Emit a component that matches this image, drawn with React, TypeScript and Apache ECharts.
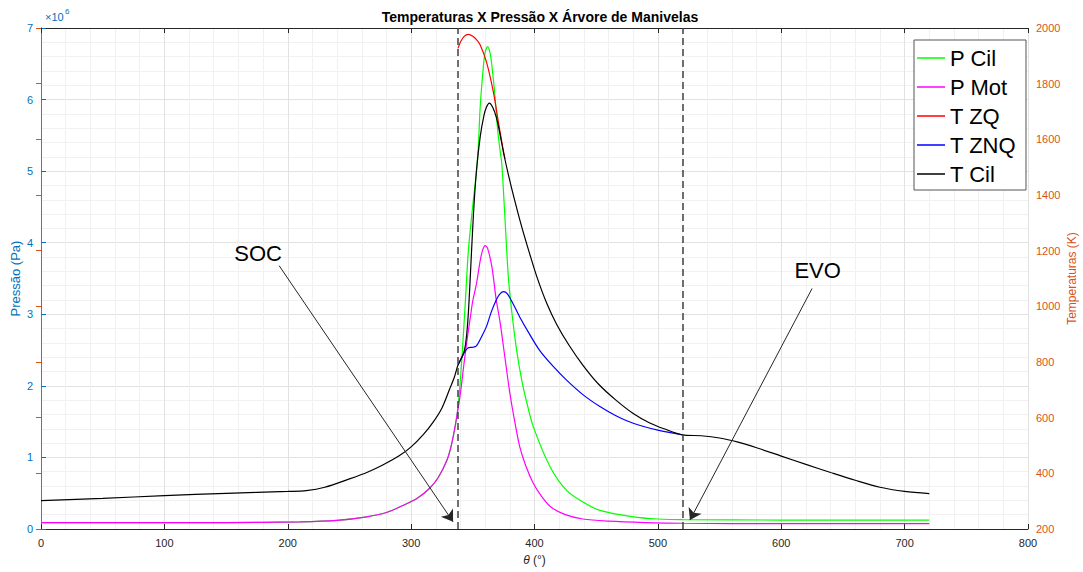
import React, { useEffect, useRef } from "react";
import * as echarts from "echarts";

// ---- Data (pressure in 10^6 Pa, temperature in K, crank angle in degrees) ----
const thetaPMot = [0, 100, 150, 210, 240, 264, 280, 291, 305, 315, 322, 329, 333, 337, 340, 342.5, 345, 348, 350, 353, 356, 358, 360, 362, 365.5, 369, 372, 376, 380, 384, 388, 393, 399, 406, 413, 425, 439, 460, 490, 520, 600, 720];
const pMot = [0.09, 0.09, 0.09, 0.1, 0.12, 0.17, 0.23, 0.31, 0.43, 0.57, 0.72, 0.96, 1.2, 1.57, 1.9, 2.26, 2.6, 2.96, 3.19, 3.43, 3.75, 3.9, 3.96, 3.92, 3.66, 3.2, 2.9, 2.4, 1.9, 1.5, 1.15, 0.88, 0.64, 0.45, 0.31, 0.2, 0.14, 0.11, 0.09, 0.08, 0.075, 0.075];

const thetaPCil = [0, 100, 150, 210, 240, 264, 280, 291, 305, 315, 322, 329, 333, 337, 340, 343.7, 346.4, 350.4, 353, 354.5, 356, 358.5, 360, 362, 364, 365.5, 368.2, 370, 372, 373.5, 376, 378.8, 381.5, 385.5, 390, 394, 399, 412.6, 426, 440, 453, 480, 500, 520, 600, 720];
const pCil = [0.09, 0.09, 0.09, 0.1, 0.12, 0.17, 0.23, 0.31, 0.43, 0.57, 0.72, 0.96, 1.2, 1.57, 2.1, 3.1, 3.89, 4.59, 5.0, 5.35, 5.9, 6.45, 6.66, 6.74, 6.65, 6.47, 6.0, 5.6, 5.3, 5.1, 4.36, 3.52, 3.05, 2.5, 2.05, 1.75, 1.43, 0.87, 0.54, 0.37, 0.26, 0.17, 0.14, 0.13, 0.125, 0.125];

const thetaTZQ = [338, 340, 343, 346.4, 350, 353, 356, 361, 366.6, 370.7, 373.5, 376];
const tZQ = [1927, 1950, 1970, 1977, 1970, 1958, 1939, 1879, 1771, 1663, 1590, 1530];

const thetaTZNQ = [338, 342, 346, 350, 353, 357, 361, 365, 369, 372, 375, 378, 382, 388, 396, 404, 415, 426, 440, 453, 466, 480, 500, 520];
const tZNQ = [789, 825, 850, 853, 858, 890, 927, 980, 1023, 1045, 1053, 1045, 1015, 962, 900, 843, 785, 735, 680, 640, 607, 580, 555, 538];

const thetaTCil = [0, 50, 100, 150, 200, 215, 230, 250, 265, 277, 290, 300, 310, 318, 325, 331, 335, 338, 342, 344, 346, 348, 350.5, 353, 356, 359, 361, 363.4, 366, 369, 372, 375, 379, 384, 390, 396, 402, 410, 418, 428, 439, 452, 466, 480, 493, 505, 520, 535, 550, 565, 580, 600, 620, 640, 660, 680, 700, 720];
const tCil = [302, 310, 320, 328, 335, 338, 350, 380, 405, 430, 462, 495, 540, 585, 635, 700, 745, 789, 825, 860, 950, 1110, 1330, 1490, 1610, 1685, 1715, 1730, 1716, 1680, 1620, 1550, 1470, 1380, 1280, 1190, 1105, 1010, 935, 860, 790, 720, 663, 615, 582, 560, 538, 535, 527, 512, 492, 462, 432, 403, 375, 350, 335, 327];

const xTicks = { min: 0, max: 800, step: 100 };
const pTicks = { min: 0, max: 7, step: 1 };
const tTicks = { min: 200, max: 2000, step: 200 };

const socTheta = 338;
const evoTheta = 520;
// annotation arrows: [start theta, start p, end theta, end p]
const socArrow = [193, 3.68, 334, 0.1];
const evoArrow = [625, 3.36, 526, 0.125];
const socLabel = [176, 3.85];
const evoLabel = [629.5, 3.61];

const zip = (xs: number[], ys: number[]) => xs.map((x, i) => [x, ys[i]]);

const FONT = "'Liberation Sans', Arial, Helvetica, sans-serif";
const BLUE = "#0072BD";
const ORANGE = "#D95319";
const DARK = "#262626";

export default function App() {
  const ref = useRef<HTMLDivElement>(null);
  useEffect(() => {
    if (!ref.current) return;
    const chart = echarts.init(ref.current, undefined, { renderer: "svg" });
    const lineBase = {
      type: "line",
      showSymbol: false,
      symbol: "none",
      smooth: 0.3,
      z: 3,
    };
    const option: any = {
      animation: false,
      textStyle: { fontFamily: FONT },
      title: {
        text: "Temperaturas X Pressão X Árvore de Manivelas",
        left: 535,
        textAlign: "center",
        top: 5,
        textStyle: { fontSize: 14, fontWeight: "bold", color: "#000", fontFamily: FONT },
      },
      grid: { left: 41, right: 55, top: 28, bottom: 43, containLabel: false, outerBoundsMode: "none" },
      legend: {
        orient: "vertical",
        right: 57,
        top: 40,
        itemWidth: 28,
        itemHeight: 1.5,
        itemGap: 7,
        icon: "rect",
        padding: [7, 10, 5, 3],
        borderColor: "#555",
        borderWidth: 1,
        backgroundColor: "#fff",
        textStyle: { fontSize: 22, lineHeight: 22, color: "#000", fontFamily: FONT },
        data: ["P Cil", "P Mot", "T ZQ", "T ZNQ", "T Cil"],
      },
      graphic: [
        { type: "text", left: 45, top: 11, style: { text: "×10", fontSize: 11, fill: BLUE, fontFamily: FONT } },
        { type: "text", left: 65, top: 7, style: { text: "6", fontSize: 8, fill: BLUE, fontFamily: FONT } },
      ],
      xAxis: [
        {
          type: "value",
          position: "bottom",
          min: xTicks.min,
          max: xTicks.max,
          interval: xTicks.step,
          name: "{i|θ} (°)",
          nameLocation: "middle",
          nameGap: 25,
          nameTextStyle: { color: DARK, fontSize: 12, rich: { i: { fontStyle: "italic", fontSize: 12, color: DARK } } },
          axisLine: { lineStyle: { color: DARK, width: 1 } },
          axisTick: { inside: true, length: 5, lineStyle: { color: DARK } },
          axisLabel: { color: DARK, fontSize: 11, margin: 8 },
          splitLine: { show: true, lineStyle: { color: "#e2e2e2", width: 1 } },
          minorTick: { show: true, splitNumber: 5, length: 0, lineStyle: { color: "rgba(0,0,0,0)" } },
          minorSplitLine: { show: true, lineStyle: { color: "#f1f1f1", width: 1 } },
        },
        {
          type: "value",
          position: "top",
          min: xTicks.min,
          max: xTicks.max,
          interval: xTicks.step,
          axisLine: { lineStyle: { color: DARK, width: 1 } },
          axisTick: { inside: true, length: 5, lineStyle: { color: DARK } },
          axisLabel: { show: false },
          splitLine: { show: false },
        },
      ],
      yAxis: [
        {
          type: "value",
          position: "left",
          min: pTicks.min,
          max: pTicks.max,
          interval: pTicks.step,
          name: "Pressão (Pa)",
          nameLocation: "middle",
          nameGap: 19,
          nameMoveOverlap: false,
          nameTextStyle: { color: BLUE, fontSize: 13 },
          axisLine: { show: true, lineStyle: { color: BLUE, width: 1 } },
          axisTick: { show: true, inside: true, length: 5, lineStyle: { color: BLUE } },
          axisLabel: { color: BLUE, fontSize: 11, margin: 8 },
          splitLine: { show: true, lineStyle: { color: "#e2e2e2", width: 1 } },
          minorTick: { show: true, splitNumber: 5, length: 0, lineStyle: { color: "rgba(0,0,0,0)" } },
          minorSplitLine: { show: true, lineStyle: { color: "#f1f1f1", width: 1 } },
        },
        {
          type: "value",
          position: "right",
          min: tTicks.min,
          max: tTicks.max,
          interval: tTicks.step,
          name: "Temperaturas (K)",
          nameLocation: "middle",
          nameGap: 38,
          nameRotate: 90,
          nameMoveOverlap: false,
          nameTextStyle: { color: ORANGE, fontSize: 12 },
          axisLine: { show: true, lineStyle: { color: ORANGE, width: 1 } },
          axisTick: { show: true, inside: true, length: 5, lineStyle: { color: ORANGE } },
          axisLabel: { color: ORANGE, fontSize: 11, margin: 8, formatter: (v: number) => String(v) },
          splitLine: { show: false },
        },
      ],
      series: [
        {
          ...lineBase,
          name: "P Cil",
          yAxisIndex: 0,
          data: zip(thetaPCil, pCil),
          lineStyle: { color: "#00ff00", width: 1.2 },
          itemStyle: { color: "#00ff00" },
          markLine: {
            silent: true,
            symbol: ["none", "arrow"],
            symbolSize: 11,
            label: { show: false },
            lineStyle: { type: "solid", color: DARK, width: 1 },
            data: [
              [{ coord: [socArrow[0], socArrow[1]] }, { coord: [socArrow[2], socArrow[3]] }],
              [{ coord: [evoArrow[0], evoArrow[1]] }, { coord: [evoArrow[2], evoArrow[3]] }],
            ],
          },
          markPoint: {
            silent: true,
            symbol: "circle",
            symbolSize: 0,
            label: { show: true, position: "inside", formatter: "{b}", fontSize: 22, color: "#000", fontFamily: FONT },
            data: [
              { name: "SOC", coord: socLabel },
              { name: "EVO", coord: evoLabel },
            ],
          },
        },
        {
          ...lineBase,
          name: "P Mot",
          yAxisIndex: 0,
          data: zip(thetaPMot, pMot),
          lineStyle: { color: "#ff00ff", width: 1.2 },
          itemStyle: { color: "#ff00ff" },
        },
        {
          ...lineBase,
          name: "T ZQ",
          yAxisIndex: 1,
          data: zip(thetaTZQ, tZQ),
          lineStyle: { color: "#ff0000", width: 1.2 },
          itemStyle: { color: "#ff0000" },
        },
        {
          ...lineBase,
          name: "T ZNQ",
          yAxisIndex: 1,
          data: zip(thetaTZNQ, tZNQ),
          lineStyle: { color: "#0000ff", width: 1.2 },
          itemStyle: { color: "#0000ff" },
        },
        {
          ...lineBase,
          name: "T Cil",
          yAxisIndex: 1,
          data: zip(thetaTCil, tCil),
          lineStyle: { color: "#000000", width: 1.2 },
          itemStyle: { color: "#000000" },
          markLine: {
            silent: true,
            symbol: ["none", "none"],
            label: { show: false },
            lineStyle: { type: [7, 4], color: "#404040", width: 1.5 },
            data: [{ xAxis: socTheta }, { xAxis: evoTheta }],
          },
        },
      ],
    };
    chart.setOption(option);
    return () => chart.dispose();
  }, []);
  return (
    <div
      ref={ref}
      style={{ position: "fixed", left: 0, top: 0, width: 1083, height: 572, background: "#fff" }}
    />
  );
}
